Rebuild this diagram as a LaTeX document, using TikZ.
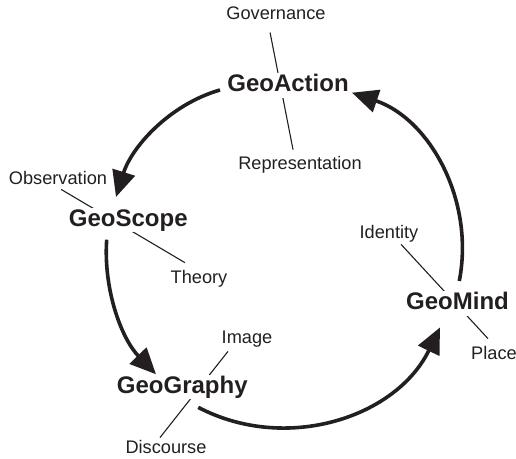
\documentclass[tikz,border=0pt]{standalone}
\usepackage{fontspec}
\setmainfont{Liberation Sans}
\usetikzlibrary{arrows.meta,backgrounds}
\definecolor{ink}{RGB}{35,31,32}

\tikzset{
 hub/.style={font=\bfseries\fontsize{12}{14}\selectfont,fill=white,inner sep=1pt,text height=8.3pt,text depth=2pt},
 term/.style={font=\fontsize{9.1}{11}\selectfont,inner sep=0pt,text height=6.5pt,text depth=0pt},
 tie/.style={draw=ink,line width=0.55pt},
 roundarrow/.style={draw=ink,line width=1.8pt,-{Triangle[length=13pt,width=11.5pt]}}
}

\begin{document}
\begin{tikzpicture}[x=0.5pt,y=-0.5pt,color=ink]
\useasboundingbox (0,0) rectangle (516,459);

% the four stages
\node[hub] (act) at (288,85.7) {GeoAction};
\node[hub] (scope) at (128.3,220) {GeoScope};
\node[hub] (graphy) at (182.3,387) {GeoGraphy};
\node[hub] (mind) at (457.5,303.3) {GeoMind};

% terms on either side
\node[term] (gov) at (276,13) {Governance};
\node[term] (repr) at (300,163) {Representation};
\node[term] (obs) at (58,178) {Observation};
\node[term] (theory) at (199,277) {Theory};
\node[term] (ident) at (389,232) {Identity};
\node[term] (place) at (494,353) {Place};
\node[term] (image) at (247,337) {Image};
\node[term] (disc) at (166,447) {Discourse};

% ties run behind the stages
\begin{scope}[on background layer]
 \draw[tie,shorten <=6.4pt,shorten >=3.3pt] ([xshift=-4.2pt]gov.south) -- ([xshift=-2.85pt]repr.north);
 \draw[tie,shorten <=4.4pt,shorten >=7.3pt] ([xshift=-2.25pt]obs.south) -- ([xshift=-0.75pt]theory.north);
 \draw[tie,shorten <=3.7pt,shorten >=5.1pt] ([xshift=3.5pt]ident.south) -- ([xshift=0.45pt]place.north);
 \draw[tie,shorten <=4.8pt,shorten >=1.6pt] ([xshift=-6.55pt]image.south) -- ([xshift=-4pt]disc.north);
\end{scope}

% the cycle
\draw[roundarrow] ([xshift=-34pt,yshift=4.2pt]act.south) to[out=196,in=72.6,looseness=0.9] ([xshift=-6.15pt,yshift=5.15pt]scope.north);
\draw[roundarrow] ([xshift=-10.8pt,yshift=-3.5pt]scope.south) to[out=266,in=134,looseness=0.89] ([xshift=-13.15pt]graphy.north);
\draw[roundarrow] ([xshift=8pt,yshift=-3.85pt]graphy.south) to[out=-27.6,in=244.2,looseness=1] ([xshift=-8.75pt,yshift=-5.7pt]mind.south);
\draw[roundarrow] ([xshift=0.9pt,yshift=4.8pt]mind.north) to[out=79,in=341.3,looseness=0.97] ([xshift=32pt,yshift=2.85pt]act.south);

\end{tikzpicture}
\end{document}
